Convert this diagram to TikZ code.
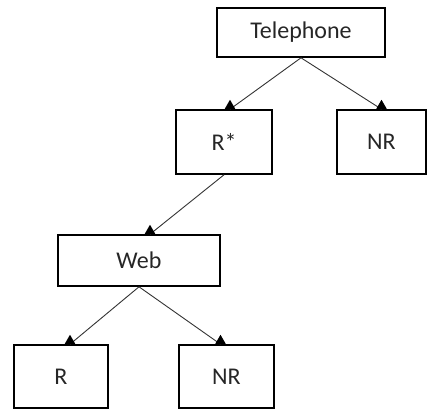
\documentclass[tikz,border=0pt]{standalone}
\usepackage{fontspec}
\setmainfont{Carlito}
\usetikzlibrary{shapes.geometric}

\begin{document}
\begin{tikzpicture}[x=1pt,y=-1pt,
  box/.style={draw,line width=1.6pt,inner sep=0pt,font=\fontsize{24}{28}\selectfont,text=black!85},
  uptri/.style={regular polygon,regular polygon sides=3,fill=black,inner sep=0pt,minimum size=12pt,anchor=south},
  link/.style={draw,line width=0.9pt,black!80}]
\useasboundingbox (0,0) rectangle (444,416);
\node[box,minimum width=168pt,minimum height=49pt](tel) at (301,32.5){Telephone};
\node[box,minimum width=96pt,minimum height=64pt](rs) at (224,142){R*};
\node[box,minimum width=89pt,minimum height=64pt](nra) at (381.5,142){NR};
\node[box,minimum width=162pt,minimum height=51pt](web) at (139,260.5){Web};
\node[box,minimum width=94pt,minimum height=63pt](r) at (61,376.5){R};
\node[box,minimum width=95pt,minimum height=63pt](nrb) at (226.5,376.5){NR};
% connectors
\path[link] (tel.south) -- node[uptri,pos=1]{} ([xshift=6pt]rs.north);
\path[link] (tel.south) -- node[uptri,pos=1]{} (nra.north);
\path[link] (rs.south) -- node[uptri,pos=1]{} ([xshift=11pt]web.north);
\path[link] (web.south) -- node[uptri,pos=1]{} ([xshift=9pt]r.north);
\path[link] (web.south) -- node[uptri,pos=1]{} ([xshift=-6pt]nrb.north);
\end{tikzpicture}
\end{document}
